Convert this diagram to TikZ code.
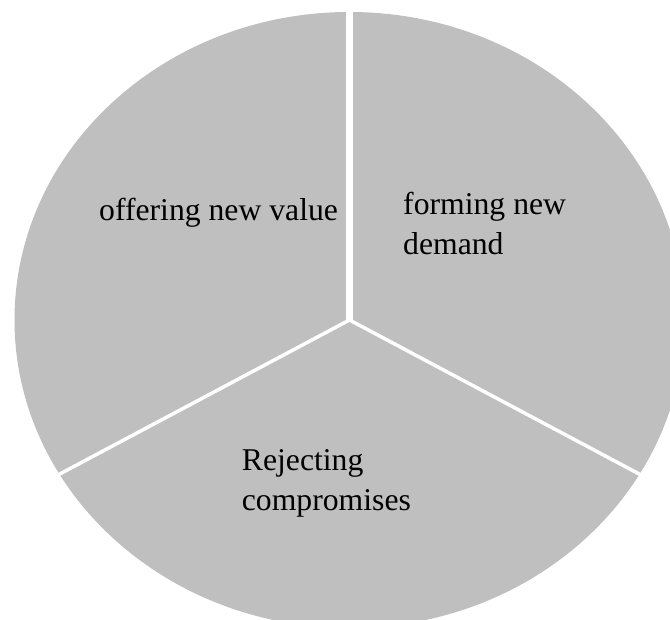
\documentclass[tikz,border=0pt]{standalone}
\usepackage{fontspec}
\setmainfont{Liberation Serif}
\definecolor{pieGray}{RGB}{191,191,191}
\tikzset{slice/.style={fill=pieGray,draw=none},
  cut/.style={white,line width=3.5pt},
  tag/.style={anchor=base west,inner sep=0pt,align=left,font=\fontsize{31.7}{39.5}\selectfont}}

\begin{document}
\begin{tikzpicture}[x=1pt,y=1pt]
    \clip (0,0) rectangle (670,620);
    \coordinate (c) at (349.5,300);
    % the pie, then the white gaps between slices
    \fill[slice] (c) ellipse [x radius=335,y radius=308];
    \coordinate (top) at ([yshift=340pt]c);
    \coordinate (lft) at ([shift={(-348pt,-185pt)}]c);
    \coordinate (rgt) at ([shift={(348pt,-185pt)}]c);
    \draw[cut,line width=7pt] (c) -- (top);
    \draw[cut] (c) -- (lft);
    \draw[cut] (c) -- (rgt);

    % base of a two-line tag is its last line
    \node (value) [tag] at (99,399) {offering new value};
    \node (demand) [tag] at (403,365.5) {forming new\\demand};
    \node (reject) [tag] at (241.7,109.5) {Rejecting\\compromises};
\end{tikzpicture}
\end{document}
